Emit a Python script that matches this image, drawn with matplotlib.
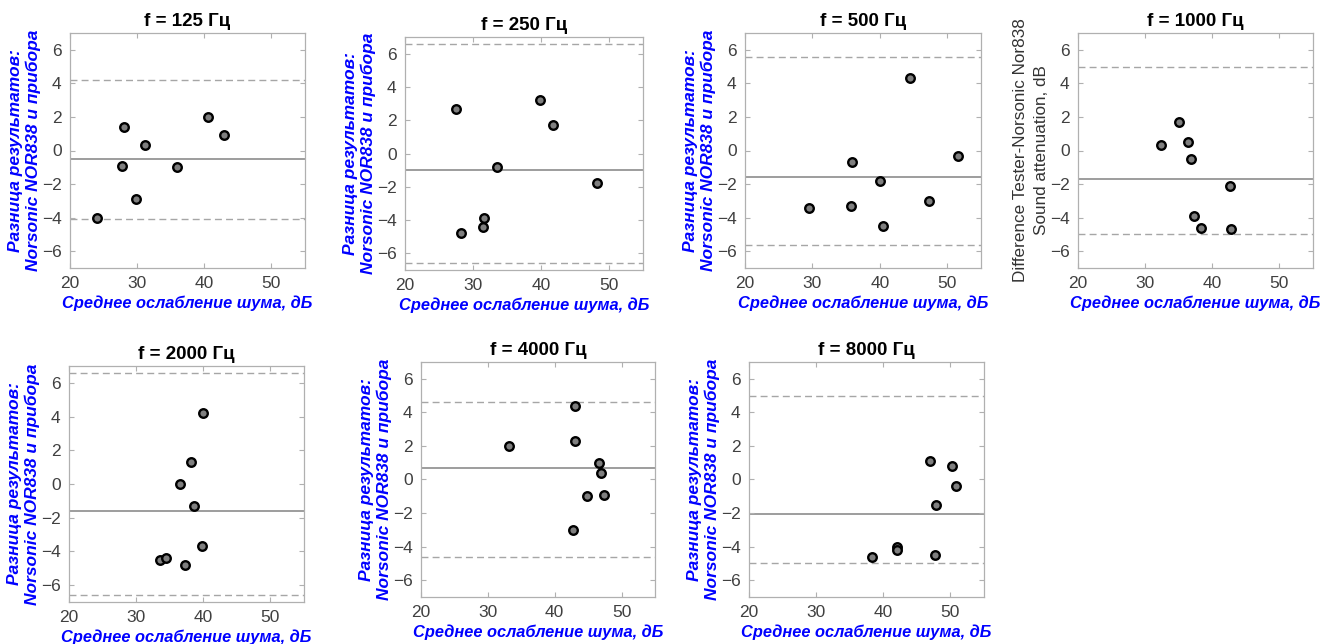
import matplotlib
matplotlib.use('agg')
import matplotlib.pyplot as plt

plt.rcParams['font.family'] = ['Liberation Sans', 'DejaVu Sans']

W, H = 1322, 644

freqs = [125, 250, 500, 1000, 2000, 4000, 8000]

# mean noise attenuation (x) and difference (y) per frequency
x125 = [24.0, 27.7, 28.1, 29.9, 31.2, 36.0, 40.5, 43.0]
y125 = [-4.0, -0.9, 1.4, -2.9, 0.35, -1.0, 2.0, 0.9]
x250 = [27.5, 28.2, 31.4, 31.6, 33.6, 39.8, 41.8, 48.2]
y250 = [2.7, -4.8, -4.4, -3.9, -0.8, 3.2, 1.7, -1.8]
x500 = [29.5, 35.7, 35.9, 40.0, 40.5, 44.4, 47.3, 51.6]
y500 = [-3.4, -3.3, -0.7, -1.8, -4.5, 4.3, -3.0, -0.3]
x1000 = [32.3, 35.1, 36.4, 36.8, 37.3, 38.3, 42.7, 42.8]
y1000 = [0.3, 1.7, 0.5, -0.5, -3.9, -4.6, -2.1, -4.7]
x2000 = [33.5, 34.4, 36.6, 37.3, 38.1, 38.6, 39.8, 39.9]
y2000 = [-4.5, -4.4, 0.0, -4.8, 1.3, -1.3, -3.7, 4.2]
x4000 = [33.2, 42.7, 43.0, 43.1, 44.8, 46.6, 46.9, 47.4]
y4000 = [2.0, -3.0, 2.3, 4.4, -1.0, 1.0, 0.4, -0.9]
x8000 = [38.3, 42.1, 42.1, 47.0, 47.7, 47.9, 50.2, 50.9]
y8000 = [-4.6, -4.0, -4.2, 1.1, -4.5, -1.5, 0.8, -0.4]

# mean difference and limits of agreement
means = [-0.5, -1.0, -1.6, -1.7, -1.6, 0.7, -2.05]
upper = [4.2, 6.6, 5.6, 5.0, 6.6, 4.6, 5.0]
lower = [-4.1, -6.6, -5.6, -5.0, -6.6, -4.6, -5.0]

xs = [x125, x250, x500, x1000, x2000, x4000, x8000]
ys = [y125, y250, y500, y1000, y2000, y4000, y8000]

# axes boxes in pixels: left, top, right, bottom
boxes = [(70, 33, 305, 268), (405, 37, 643, 270), (745, 33, 981, 268),
         (1078, 33, 1313, 268), (69, 366, 304, 602), (421, 362, 655, 597),
         (749, 362, 984, 597)]

ylab_ru = 'Разница результатов:\nNorsonic NOR838 и прибора'
ylab_en = 'Difference Tester-Norsonic Nor838\nSound attenuation, dB'
xlab = 'Среднее ослабление шума, дБ'

fig = plt.figure(figsize=(W / 100, H / 100), dpi=100)

for i, f in enumerate(freqs):
    l, t, r, b = boxes[i]
    ax = fig.add_axes([l / W, 1 - b / H, (r - l) / W, (b - t) / H])
    ax.axhline(means[i], color='#8c8c8c', lw=1.2, zorder=1)
    ax.axhline(upper[i], color='#a6a6a6', lw=1.0, ls=(0, (5, 3)), zorder=1)
    ax.axhline(lower[i], color='#a6a6a6', lw=1.0, ls=(0, (5, 3)), zorder=1)
    ax.scatter(xs[i], ys[i], s=38, c='#7f7f7f', edgecolors='black', linewidths=1.7, zorder=3)
    ax.set_xlim(20, 55)
    ax.set_ylim(-7, 7)
    ax.set_xticks([20, 30, 40, 50])
    ax.set_yticks([-6, -4, -2, 0, 2, 4, 6])
    ax.tick_params(direction='in', length=3.5, width=0.8, color='#b0b0b0',
                   labelcolor='#404040', labelsize=12.5, top=True, right=True, pad=6)
    for s in ax.spines.values():
        s.set_color('#b0b0b0')
        s.set_linewidth(0.9)
    ax.set_title('f = %d Гц' % f, fontsize=13.5, fontweight='bold', pad=5)
    ax.set_xlabel(xlab, fontsize=11.8, fontweight='bold', style='italic', color='#0000ff', labelpad=3)
    if f == 1000:
        ax.set_ylabel(ylab_en, fontsize=12.3, color='#333333', labelpad=1, linespacing=1.45)
    else:
        ax.set_ylabel(ylab_ru, fontsize=12.5, fontweight='bold', style='italic', color='#0000ff',
                      labelpad=1, linespacing=1.15)

fig.savefig('out.png', dpi=100)
